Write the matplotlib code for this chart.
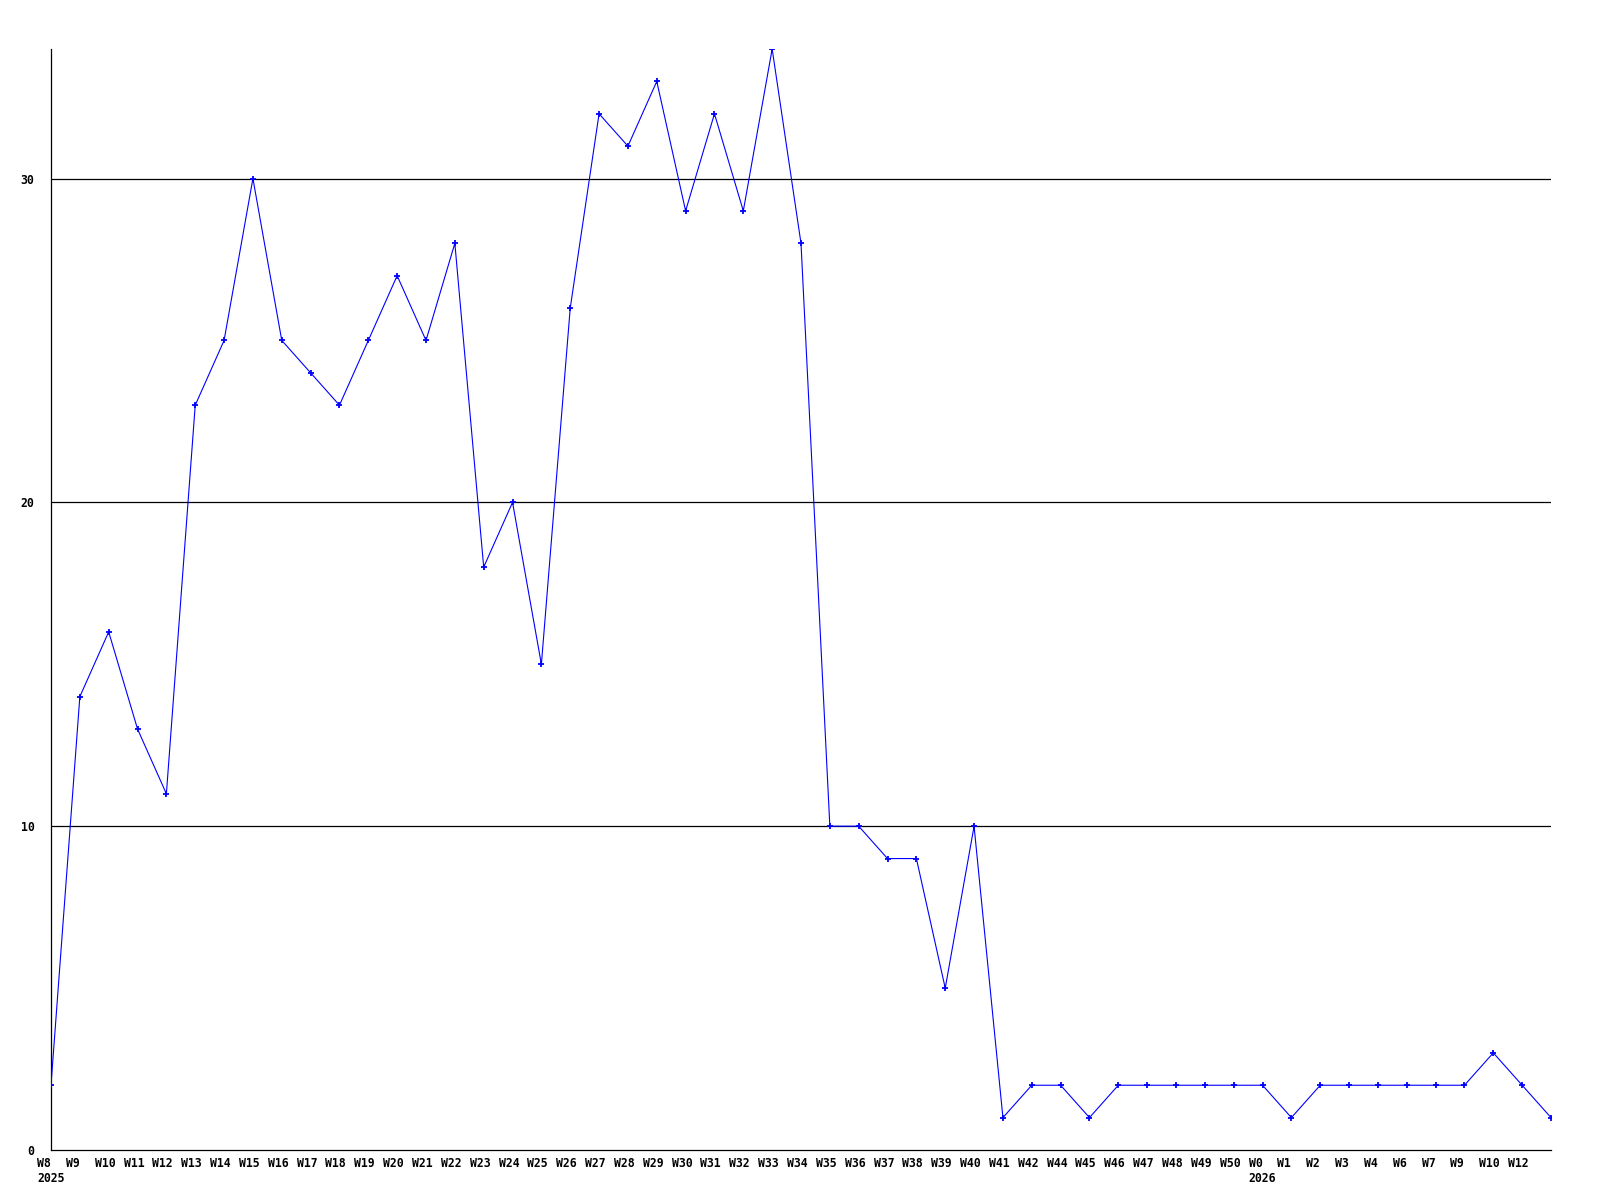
import matplotlib
matplotlib.use("Agg")
import matplotlib.pyplot as plt
import matplotlib.transforms as mtransforms

labels = ["W8", "W9", "W10", "W11", "W12", "W13", "W14", "W15", "W16", "W17",
          "W18", "W19", "W20", "W21", "W22", "W23", "W24", "W25", "W26", "W27",
          "W28", "W29", "W30", "W31", "W32", "W33", "W34", "W35", "W36", "W37",
          "W38", "W39", "W40", "W41", "W42", "W44", "W45", "W46", "W47", "W48",
          "W49", "W50", "W0", "W1", "W2", "W3", "W4", "W6", "W7", "W9",
          "W10", "W12", ""]
years = {0: "2025", 42: "2026"}
values = [2, 14, 16, 13, 11, 23, 25, 30, 25, 24,
          23, 25, 27, 25, 28, 18, 20, 15, 26, 32,
          31, 33, 29, 32, 29, 34, 28, 10, 10, 9,
          9, 5, 10, 1, 2, 2, 1, 2, 2, 2,
          2, 2, 2, 1, 2, 2, 2, 2, 2, 2,
          3, 2, 1]
yticks = [0, 10, 20, 30]

fig = plt.figure(figsize=(16, 12), dpi=100)
ax = fig.add_axes([51/1600, 1 - 1150/1200, 1500/1600, (1150 - 49)/1200])

x = list(range(len(values)))
ax.plot(x, values, color="#0000ff", linewidth=0.8, marker="+", markersize=4.5,
        markeredgewidth=1.3, zorder=3)

ax.set_xlim(0, len(values) - 1)
ax.set_ylim(0, max(values))

for v in yticks[1:]:
    ax.axhline(v, color="black", linewidth=0.9, zorder=1)

ax.spines["top"].set_visible(False)
ax.spines["right"].set_visible(False)
ax.spines["left"].set_linewidth(0.9)
ax.spines["bottom"].set_linewidth(0.9)

font = dict(family="DejaVu Sans Mono", weight="bold", size=8.3)

ax.set_yticks(yticks)
ax.set_yticklabels([str(v) for v in yticks], **font)
ax.tick_params(axis="y", length=0, pad=12)

ticklabels = []
for i, lab in enumerate(labels):
    if i in years:
        ticklabels.append(lab + "\n" + years[i])
    else:
        ticklabels.append(lab)
ax.set_xticks(x)
ax.set_xticklabels(ticklabels, ha="left", multialignment="left",
                   linespacing=1.25, **font)
ax.tick_params(axis="x", length=0, pad=5)
offset = mtransforms.ScaledTranslation(-14/100, 0, fig.dpi_scale_trans)
for t in ax.get_xticklabels():
    t.set_transform(t.get_transform() + offset)

fig.savefig("out.png", dpi=100)
